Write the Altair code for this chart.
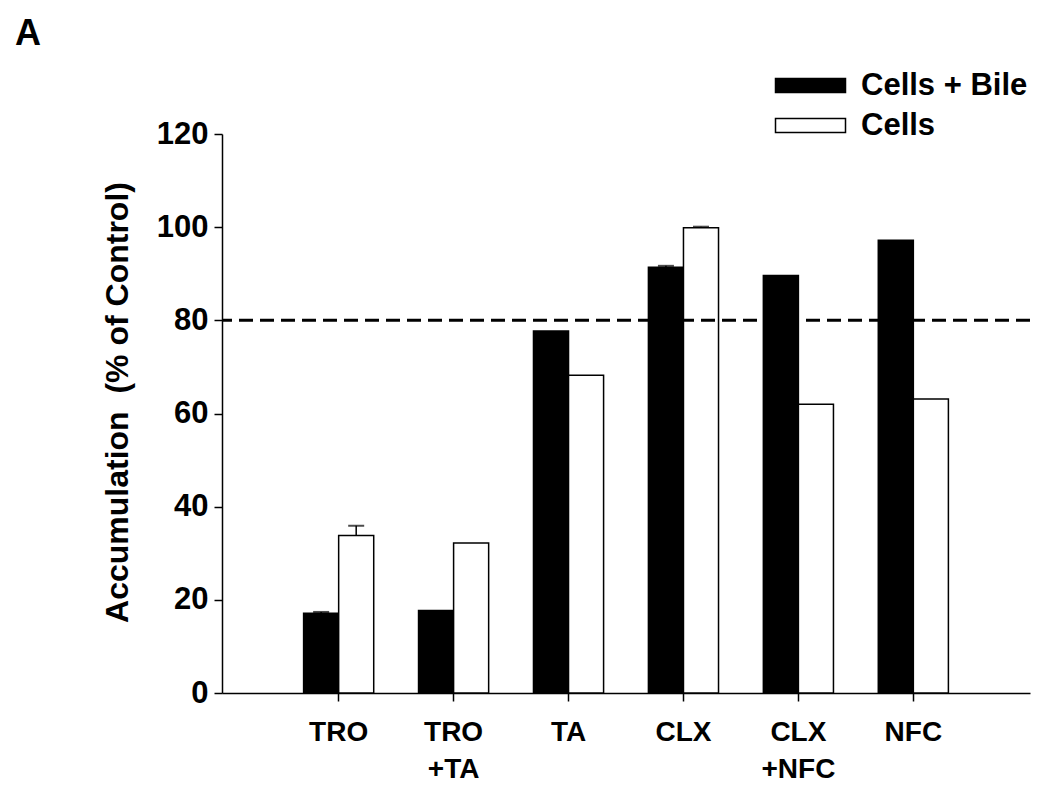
import altair as alt
import pandas as pd

categories = ["TRO", "TRO|+TA", "TA", "CLX", "CLX|+NFC", "NFC"]
series = ["Cells + Bile", "Cells"]
bile_vals = [17.1, 17.7, 77.7, 91.4, 89.6, 97.2]
cells_vals = [33.8, 32.2, 68.2, 99.9, 62.0, 63.1]
bile_err = [0.3, 0.0, 0.0, 0.3, 0.0, 0.0]
cells_err = [2.1, 0.0, 0.0, 0.2, 0.0, 0.0]
y_ticks = [0, 20, 40, 60, 80, 100, 120]
threshold = 80

rows = []
for i, c in enumerate(categories):
    rows.append({"cat": c, "series": series[0], "value": bile_vals[i], "err": bile_err[i],
                 "hi": bile_vals[i] + bile_err[i]})
    rows.append({"cat": c, "series": series[1], "value": cells_vals[i], "err": cells_err[i],
                 "hi": cells_vals[i] + cells_err[i]})
df = pd.DataFrame(rows)
FONT = "Liberation Sans"

x_enc = alt.X("cat:N", sort=categories,
              scale=alt.Scale(paddingInner=0.39, paddingOuter=0.71),
              axis=alt.Axis(title=None, labelAngle=0, labelExpr="split(datum.value, '|')",
                            labelFont=FONT, labelFontSize=28, labelFontWeight="bold",
                            labelColor="black", labelPadding=17, labelLineHeight=37,
                            tickSize=8, tickColor="black", tickWidth=1.5,
                            domainColor="black", domainWidth=1.5))
y_enc = alt.Y("value:Q", scale=alt.Scale(domain=[0, 120], nice=False),
              axis=alt.Axis(title="Accumulation\u00a0\u00a0(% of Control)", values=y_ticks,
                            grid=False, labelFont=FONT, labelFontSize=31,
                            labelFontWeight="bold", labelColor="black", labelPadding=6,
                            tickSize=8, tickColor="black", tickWidth=1.5,
                            domainColor="black", domainWidth=1.5,
                            titleFont=FONT, titleFontSize=32, titleFontWeight="bold",
                            titleColor="black", titleX=-105, titleY=268,
                            titleBaseline="middle", titleAlign="center"))
xoff = alt.XOffset("series:N", sort=series, scale=alt.Scale(paddingInner=0, paddingOuter=0))

bars = alt.Chart(df).mark_bar(stroke="black", strokeWidth=1.5).encode(
    x=x_enc, y=y_enc, xOffset=xoff,
    fill=alt.Fill("series:N", sort=series,
                  scale=alt.Scale(domain=series, range=["black", "white"]),
                  legend=alt.Legend(title=None, orient="none", legendX=573, legendY=-64,
                                    symbolType="M-5,-1H5V1H-5Z", symbolSize=196,
                                    symbolStrokeColor="black", symbolStrokeWidth=1.5,
                                    labelFont=FONT, labelFontSize=31, labelFontWeight="bold",
                                    labelColor="black", labelOffset=35, rowPadding=8,
                                    labelLimit=400)),
)

err_df = df[df["err"] > 0]
err_rule = alt.Chart(err_df).mark_rule(color="black", strokeWidth=1.5).encode(
    x=alt.X("cat:N", sort=categories), xOffset=alt.XOffset("series:N", sort=series),
    y="value:Q", y2="hi:Q")
err_cap = alt.Chart(err_df).mark_tick(color="black", thickness=2, size=16,
                                      orient="horizontal").encode(
    x=alt.X("cat:N", sort=categories), xOffset=alt.XOffset("series:N", sort=series),
    y="hi:Q")

line = alt.Chart(pd.DataFrame({"v": [threshold]})).mark_rule(
    color="black", strokeWidth=3, strokeDash=[14, 7]).encode(y="v:Q")

chart = alt.layer(bars, err_rule, err_cap, line).properties(
    width=808, height=559,
    autosize=alt.AutoSizeParams(type="none"),
    padding={"left": 214, "top": 126, "right": 10, "bottom": 100},
    title=alt.Title("A", anchor="start", frame="group", dx=-207, offset=17,
                    font=FONT, fontSize=36, fontWeight="bold", color="black"),
).configure_view(stroke=None)

chart.save("out.html", embed_options={"renderer": "svg", "actions": False})
